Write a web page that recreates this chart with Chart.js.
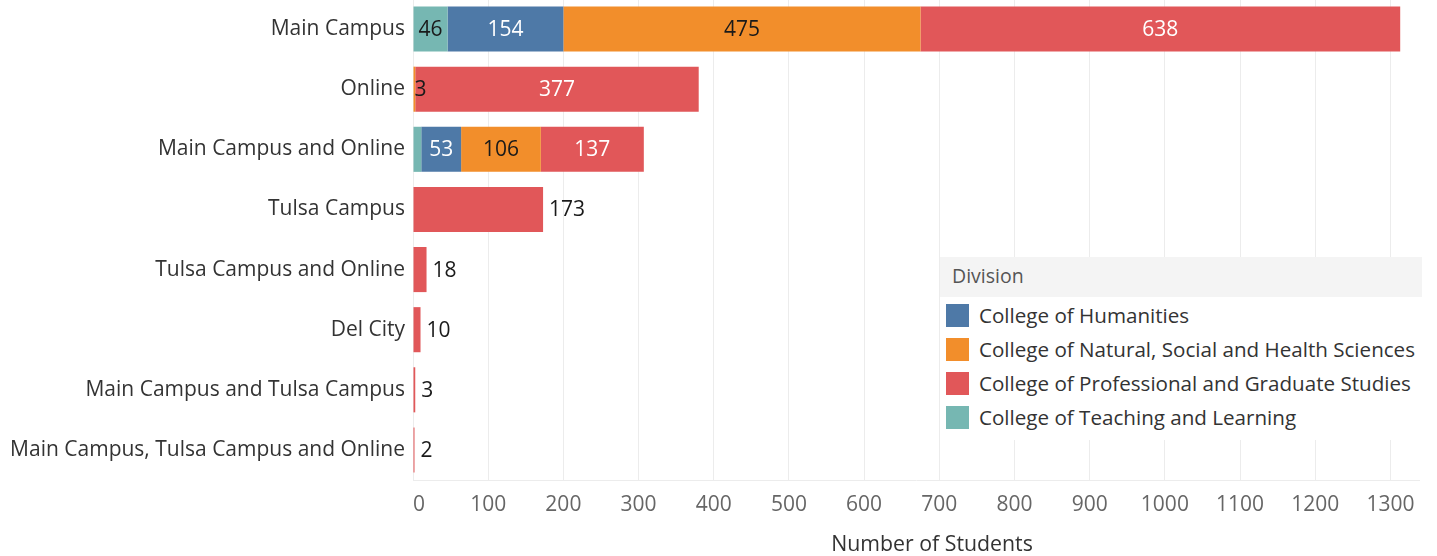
<!DOCTYPE html>
<html>
<head>
<meta charset="utf-8">
<script src="https://cdn.jsdelivr.net/npm/chart.js@4.4.1/dist/chart.umd.min.js"></script>
<style>
  html, body { margin: 0; padding: 0; background: #fff; }
  body { width: 1437px; height: 556px; position: relative; overflow: hidden; font-family: "Open Sans", sans-serif; }
  #wrap { position: absolute; left: 0; top: -1px; width: 1437px; height: 557px; }
  #xtitle { position: absolute; top: 529px; left: 732px; width: 400px; text-align: center; font-size: 21.3px; color: #333; line-height: 28px; }
  #legend { position: absolute; left: 940px; top: 257px; width: 482px; height: 183px; background: #fff; }
  #legend .ttl { height: 40px; background: #f4f4f4; color: #555; font-size: 19.5px; line-height: 38px; padding-left: 12px; }
  #legend .item { position: absolute; left: 6px; height: 24px; display: flex; align-items: center; font-size: 20.6px; color: #333; white-space: nowrap; }
  #legend .sw { width: 23px; height: 23px; margin-right: 10px; flex: none; }
</style>
</head>
<body>
<div id="wrap"><canvas id="c" width="1437" height="557"></canvas></div>
<div id="xtitle"></div>
<div id="legend"><div class="ttl"></div></div>
<script>
const categories = [
  "Main Campus",
  "Online",
  "Main Campus and Online",
  "Tulsa Campus",
  "Tulsa Campus and Online",
  "Del City",
  "Main Campus and Tulsa Campus",
  "Main Campus, Tulsa Campus and Online"
];
const teachingLearning = [46, null, 11, null, null, null, null, null];
const humanities       = [154, null, 53, null, null, null, null, null];
const naturalSocial    = [475, 3, 106, null, null, null, null, null];
const professionalGrad = [638, 377, 137, 173, 18, 10, 3, 2];

const xTicks = [0, 100, 200, 300, 400, 500, 600, 700, 800, 900, 1000, 1100, 1200, 1300];
const xAxisTitle = "Number of Students";
const legendTitle = "Division";

const seriesNames = [
  "College of Teaching and Learning",
  "College of Humanities",
  "College of Natural, Social and Health Sciences",
  "College of Professional and Graduate Studies"
];
const seriesColors = ["#76b7b2", "#4e79a7", "#f28e2b", "#e15759"];
const labelColors  = ["#1a1a1a", "#ffffff", "#1a1a1a", "#ffffff"];
const legendOrder = [1, 2, 3, 0];

const seriesData = [teachingLearning, humanities, naturalSocial, professionalGrad];

document.getElementById('xtitle').textContent = xAxisTitle;
const legendEl = document.getElementById('legend');
legendEl.querySelector('.ttl').textContent = legendTitle;
legendOrder.forEach((di, k) => {
  const it = document.createElement('div');
  it.className = 'item';
  it.style.top = (46 + k * 34) + 'px';
  const sw = document.createElement('span');
  sw.className = 'sw';
  sw.style.background = seriesColors[di];
  const tx = document.createElement('span');
  tx.textContent = seriesNames[di];
  it.appendChild(sw); it.appendChild(tx);
  legendEl.appendChild(it);
});

const FONT = '"Open Sans", sans-serif';

const valueLabels = {
  id: 'valueLabels',
  afterDatasetsDraw(chart) {
    const ctx = chart.ctx;
    ctx.save();
    ctx.font = '21px ' + FONT;
    ctx.textBaseline = 'middle';
    const n = categories.length;
    for (let i = 0; i < n; i++) {
      const segs = [];
      chart.data.datasets.forEach((ds, di) => {
        const v = ds.data[i];
        if (v == null) return;
        const el = chart.getDatasetMeta(di).data[i];
        segs.push({ v, di, x0: Math.min(el.base, el.x), x1: Math.max(el.base, el.x), y: el.y });
      });
      if (segs.length === 1) {
        const s = segs[0];
        ctx.fillStyle = '#1a1a1a';
        ctx.textAlign = 'left';
        ctx.fillText(String(s.v), s.x1 + 6, s.y + 1);
        continue;
      }
      const places = segs.map(s => {
        const t = String(s.v);
        const w = ctx.measureText(t).width;
        if (s.x1 - s.x0 >= w + 6) {
          return { t, left: (s.x0 + s.x1) / 2 - w / 2, w, color: labelColors[s.di], fits: true, y: s.y };
        }
        return { t, left: s.x0 + 1, w, color: '#1a1a1a', fits: false, y: s.y };
      });
      places.forEach((p, k) => {
        if (!p.fits) {
          const nxt = places[k + 1];
          if (nxt && nxt.left < p.left + p.w + 8) return;
        }
        ctx.fillStyle = p.color;
        ctx.textAlign = 'left';
        ctx.fillText(p.t, p.left, p.y + 1);
      });
    }
    ctx.restore();
  }
};

new Chart(document.getElementById('c'), {
  type: 'bar',
  data: {
    labels: categories,
    datasets: seriesData.map((d, i) => ({
      label: seriesNames[i],
      data: d,
      backgroundColor: seriesColors[i],
      borderWidth: 0,
      barPercentage: 0.75,
      categoryPercentage: 1.0
    }))
  },
  options: {
    indexAxis: 'y',
    responsive: false,
    animation: false,
    layout: { padding: { left: 0, right: 18, top: 0, bottom: 0 } },
    plugins: { legend: { display: false }, tooltip: { enabled: false } },
    scales: {
      x: {
        stacked: true,
        min: 0,
        max: 1338,
        afterBuildTicks(scale) {
          scale.ticks = xTicks.map(v => ({ value: v })).concat([{ value: 1338 }]);
        },
        afterFit(scale) { scale.height = 76; scale.paddingLeft = 0; scale.paddingRight = 0; },
        ticks: {
          align: 'inner',
          autoSkip: false,
          maxRotation: 0,
          padding: 12,
          color: '#666',
          font: { family: FONT, size: 21 },
          callback: (v) => xTicks.includes(v) ? String(v) : ''
        },
        grid: {
          drawTicks: false,
          color: (c) => (c.tick && xTicks.includes(c.tick.value)) ? '#ececec' : 'rgba(0,0,0,0)',
          lineWidth: 1
        },
        border: { display: true, color: '#ececec' }
      },
      y: {
        stacked: true,
        afterFit(scale) { scale.width = 413; scale.paddingTop = 0; scale.paddingBottom = 0; },
        ticks: {
          padding: 8,
          color: '#333',
          font: { family: FONT, size: 21 }
        },
        grid: { display: false, drawTicks: false },
        border: { display: false }
      }
    }
  },
  plugins: [valueLabels]
});
</script>
</body>
</html>
